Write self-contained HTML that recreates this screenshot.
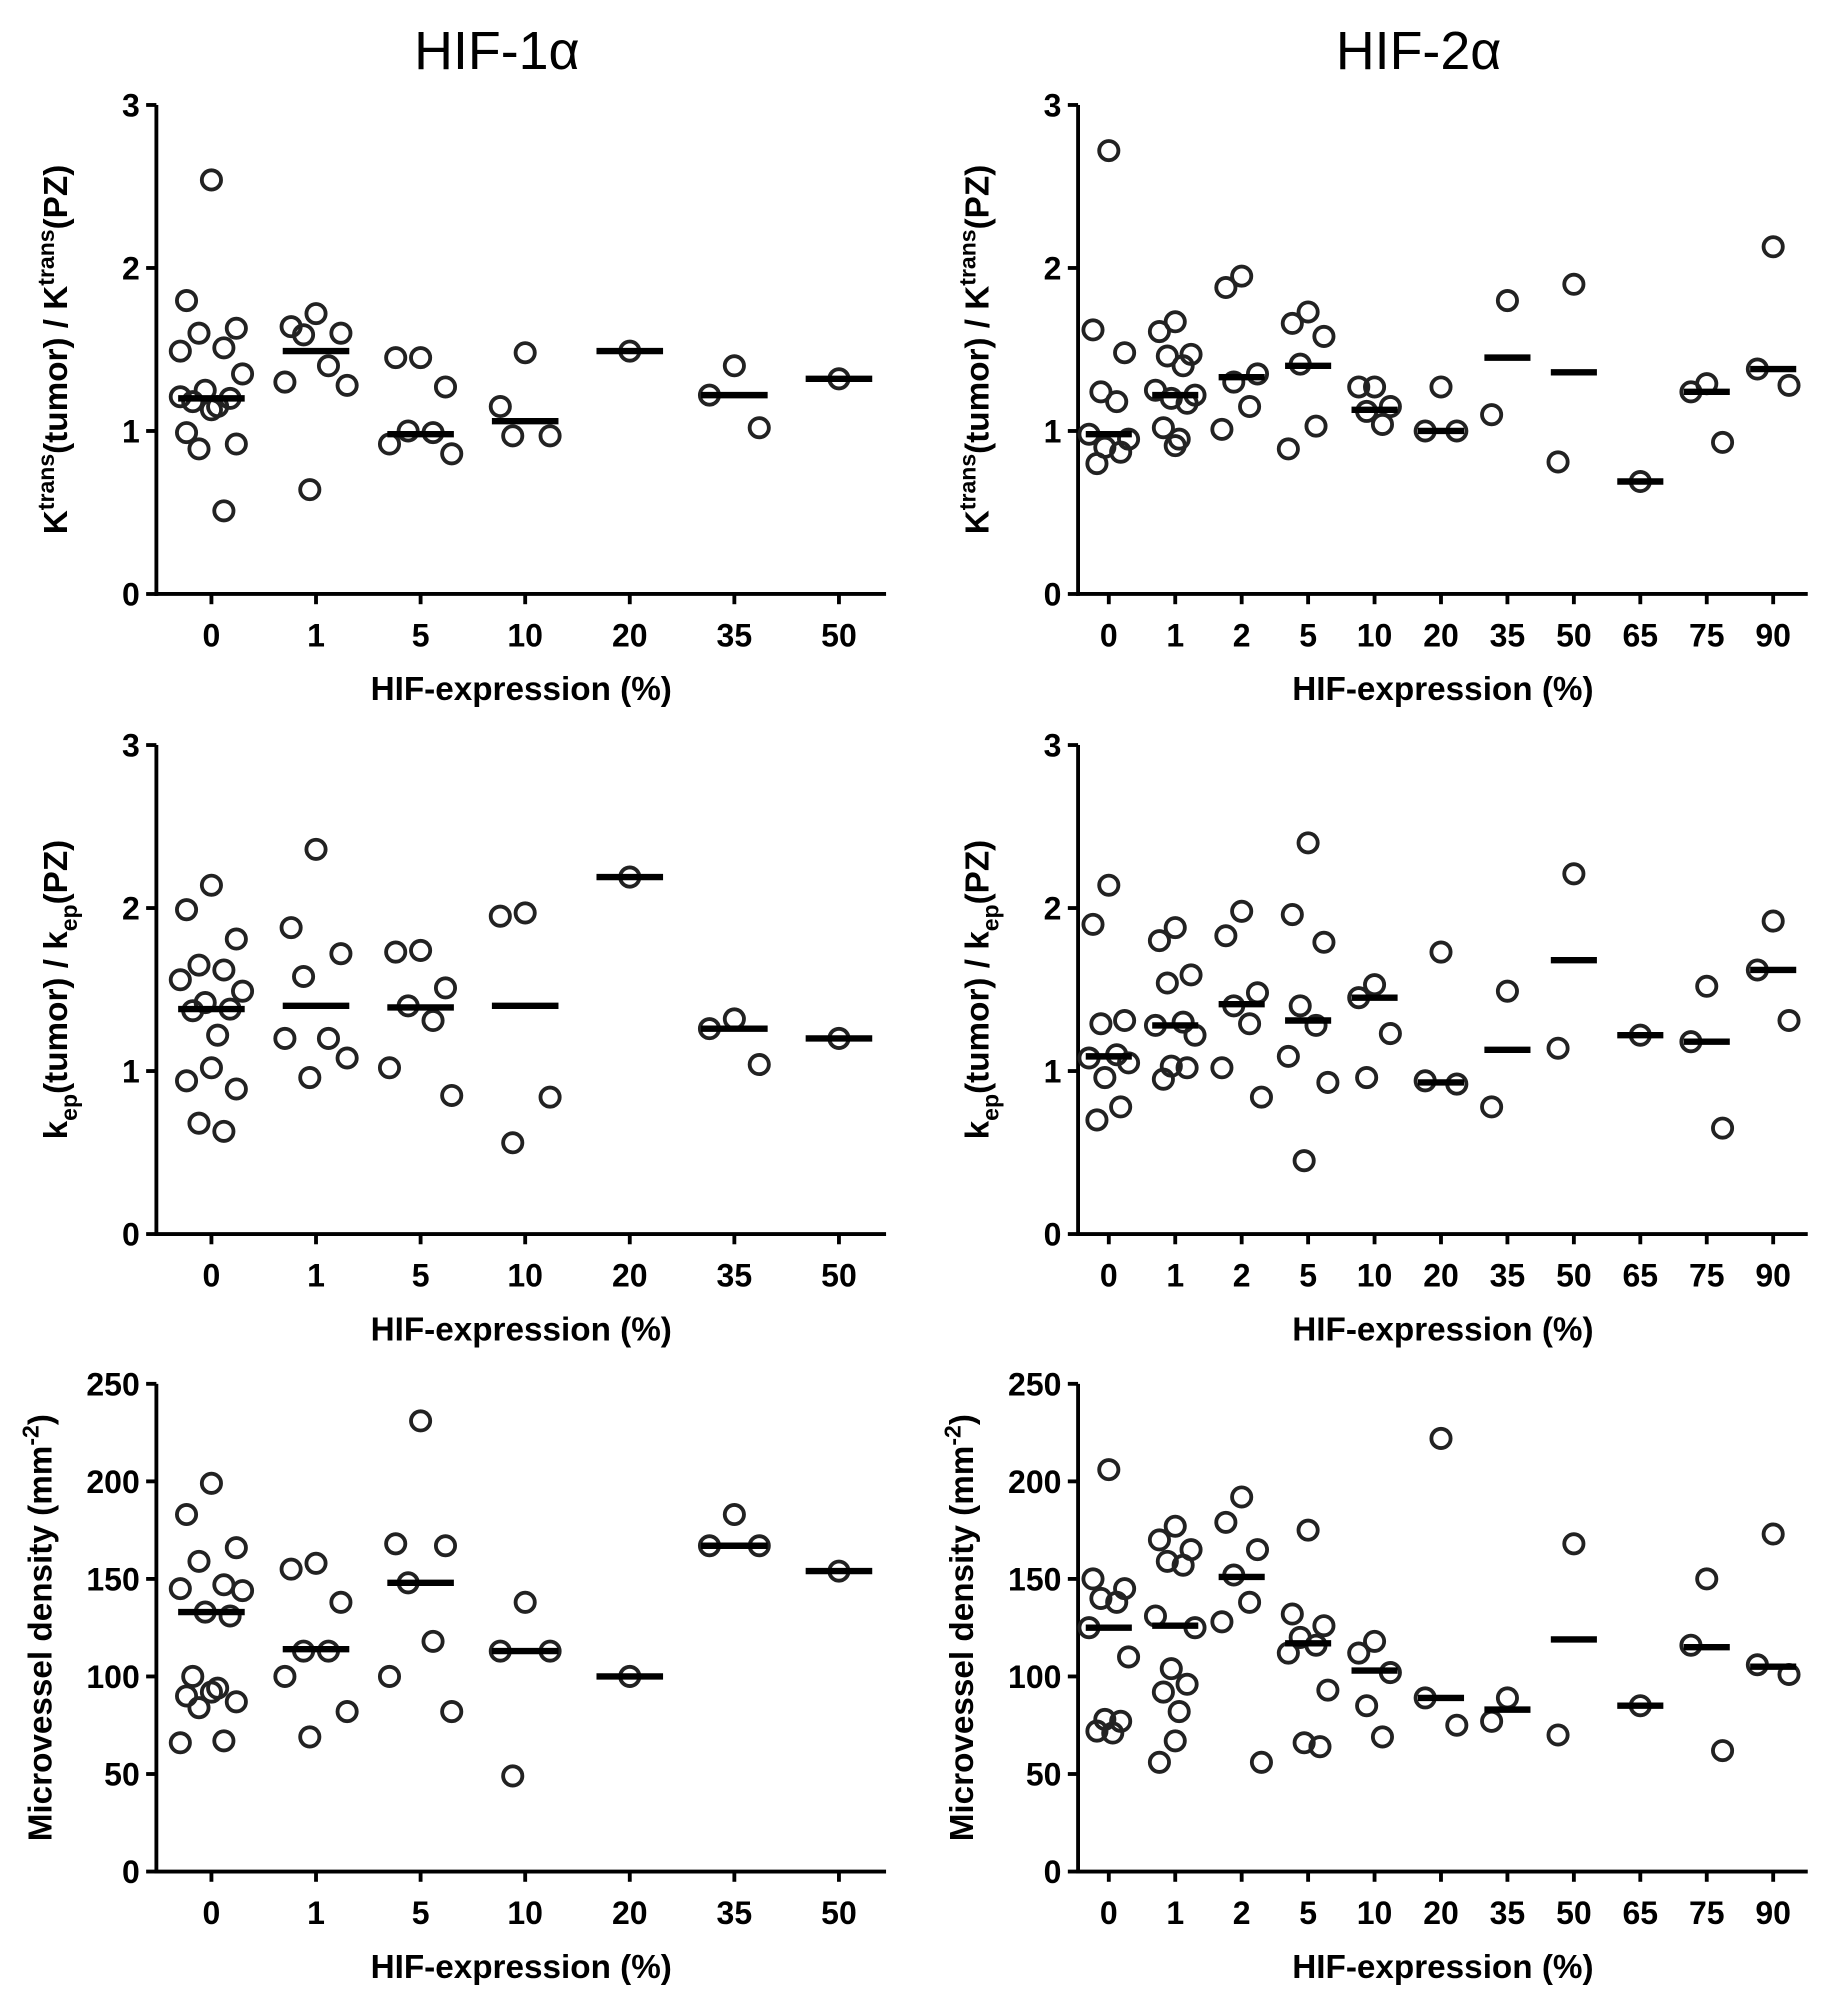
<!DOCTYPE html>
<html><head><meta charset="utf-8">
<style>
html,body{margin:0;padding:0;background:#fff;}
svg{display:block;font-family:"Liberation Sans",sans-serif;}
</style></head>
<body>
<svg id="fig" width="1831" height="1997" viewBox="0 0 1430 1560" xmlns="http://www.w3.org/2000/svg">
<text x="388" y="54" font-size="42" text-anchor="middle">HIF-1α</text>
<text x="1108" y="54" font-size="42" text-anchor="middle">HIF-2α</text>
</svg>
<script>
const cats1 = ["0","1","5","10","20","35","50"];
const cats2 = ["0","1","2","5","10","20","35","50","65","75","90"];
const ticksRatio = ["0","1","2","3"];
const ticksMvd = ["0","50","100","150","200","250"];

const ktrans1 = [[2.54,1.80,1.63,1.60,1.51,1.49,1.35,1.25,1.20,1.18,1.15,1.13,0.99,0.92,0.89,0.51,1.21],[1.72,1.64,1.60,1.59,1.40,1.30,1.28,0.64],[1.45,1.45,1.27,1.00,0.99,0.92,0.86],[1.48,1.15,0.97,0.97],[1.49],[1.40,1.22,1.02],[1.32]];
const ktrans1Med = [1.20,1.49,0.98,1.06,1.49,1.22,1.32];
const ktrans2 = [[2.72,1.62,1.48,1.24,1.18,0.98,0.95,0.90,0.87,0.80],[1.67,1.61,1.47,1.46,1.40,1.25,1.22,1.20,1.17,1.02,0.95,0.91],[1.95,1.88,1.35,1.30,1.15,1.01],[1.73,1.66,1.58,1.41,1.03,0.89],[1.27,1.27,1.15,1.12,1.04],[1.27,1.00,1.00],[1.80,1.10],[1.90,0.81],[0.69],[1.29,1.24,0.93],[2.13,1.38,1.28]];
const ktrans2Med = [0.98,1.22,1.33,1.40,1.13,1.00,1.45,1.36,0.69,1.24,1.38];
const kep1 = [[2.14,1.99,1.81,1.65,1.62,1.56,1.49,1.42,1.38,1.37,1.22,1.02,0.94,0.89,0.68,0.63],[2.36,1.88,1.72,1.58,1.20,1.20,1.08,0.96],[1.74,1.73,1.51,1.40,1.31,1.02,0.85],[1.97,1.95,0.84,0.56],[2.19],[1.32,1.26,1.04],[1.20]];
const kep1Med = [1.38,1.40,1.39,1.40,2.19,1.26,1.20];
const kep2 = [[2.14,1.90,1.31,1.29,1.10,1.08,1.05,0.96,0.78,0.70],[1.88,1.80,1.59,1.54,1.30,1.28,1.22,1.03,1.02,0.95],[1.98,1.83,1.48,1.40,1.29,1.02,0.84],[2.40,1.96,1.79,1.40,1.28,1.09,0.93,0.45],[1.53,1.45,1.23,0.96],[1.73,0.94,0.92],[1.49,0.78],[2.21,1.14],[1.22],[1.52,1.18,0.65],[1.92,1.62,1.31]];
const kep2Med = [1.09,1.28,1.41,1.31,1.45,0.93,1.13,1.68,1.22,1.18,1.62];
const mvd1 = [[199,183,166,159,147,145,144,133,131,100,94,92,90,87,84,67,66],[158,155,138,113,113,100,82,69],[231,168,167,148,118,100,82],[138,113,113,49],[100],[183,167,167],[154]];
const mvd1Med = [133,114,148,113,100,167,154];
const mvd2 = [[206,150,145,140,138,125,110,78,77,72,71],[177,170,165,159,157,131,125,104,96,92,82,67,56],[192,179,165,152,138,128,56],[175,132,126,120,116,112,93,66,64],[118,112,102,85,69],[222,89,75],[89,77],[168,70],[85],[150,116,62],[173,106,101]];
const mvd2Med = [125,126,151,117,103,89,83,119,85,115,105];

const NS="http://www.w3.org/2000/svg";
const svg=document.getElementById('fig');
function mk(tag,attrs,parent){const e=document.createElementNS(NS,tag);for(const k in attrs)e.setAttribute(k,attrs[k]);(parent||svg).appendChild(e);return e;}
const jit=[0,-0.28,0.28,-0.14,0.14,-0.35,0.35,-0.07,0.21,-0.21,0.07];

function panel(o){
  const g=mk('g',{});
  
  
  const yS=v=>o.y0-(v/o.ymax)*(o.y0-o.yTop);
  const xS=i=>o.xFirst+i*o.step;
  // axes
  const ya=mk('line',{x1:o.ax,y1:o.yTop,x2:o.ax,y2:o.y0+1.5,stroke:'#000','stroke-width':3},g);
  
  const xa=mk('line',{x1:o.ax-1.5,y1:o.y0,x2:o.xEnd,y2:o.y0,stroke:'#000','stroke-width':3},g);
  
  o.ticks.forEach(t=>{
    const y=yS(+t);
    mk('line',{x1:o.ax-8,y1:y,x2:o.ax,y2:y,stroke:'#000','stroke-width':3},g);
    const tx=mk('text',{x:o.ax-13,y:y+9,'font-size':25,'font-weight':'bold','text-anchor':'end'},g);
    tx.textContent=t;
    
  });
  o.cats.forEach((c,i)=>{
    const x=xS(i);
    mk('line',{x1:x,y1:o.y0,x2:x,y2:o.y0+8,stroke:'#000','stroke-width':3},g);
    const tx=mk('text',{x:x,y:o.y0+41,'font-size':25,'font-weight':'bold','text-anchor':'middle'},g);
    tx.textContent=c;
    
    o.vals[i].forEach((v,j)=>{
      const p=mk('circle',{cx:x+jit[j%jit.length]*o.step*0.85,cy:yS(v),r:7.5,fill:'none',stroke:'#222','stroke-width':3},g);
      
    });
    const my=yS(o.med[i]);
    const m=mk('line',{x1:x-o.mw,y1:my,x2:x+o.mw,y2:my,stroke:'#000','stroke-width':5},g);
    
  });
  const xt=mk('text',{x:(o.ax+o.xEnd)/2,y:o.y0+83,'font-size':26,'font-weight':'bold','text-anchor':'middle'},g);
  xt.textContent='HIF-expression (%)';
  
  const yt=mk('text',{x:0,y:0,'font-size':26,'font-weight':'bold','text-anchor':'middle',transform:`translate(${o.ytx},${(o.yTop+o.y0)/2}) rotate(-90)`},g);
  yt.innerHTML=o.ytitle;
  
}
const KT='K<tspan dy="-10" font-size="18">trans</tspan><tspan dy="10">(tumor) / K</tspan><tspan dy="-10" font-size="18">trans</tspan><tspan dy="10">(PZ)</tspan>';
const KE='k<tspan dy="8" font-size="18">ep</tspan><tspan dy="-8">(tumor) / k</tspan><tspan dy="8" font-size="18">ep</tspan><tspan dy="-8">(PZ)</tspan>';
const MV='Microvessel density (mm<tspan dy="-10" font-size="18">-2</tspan><tspan dy="10">)</tspan>';
const L={ax:122,xFirst:165,step:81.7,xEnd:692,mw:26};
const R={ax:842,xFirst:866,step:51.9,xEnd:1412,mw:18};
panel({...L,name:'panel-hif1a-ktrans',cats:cats1,vals:ktrans1,med:ktrans1Med,ticks:ticksRatio,ymax:3,yTop:82,y0:464,ytx:52,ytitle:KT});
panel({...R,name:'panel-hif2a-ktrans',cats:cats2,vals:ktrans2,med:ktrans2Med,ticks:ticksRatio,ymax:3,yTop:82,y0:464,ytx:772,ytitle:KT});
panel({...L,name:'panel-hif1a-kep',cats:cats1,vals:kep1,med:kep1Med,ticks:ticksRatio,ymax:3,yTop:582,y0:964,ytx:52,ytitle:KE});
panel({...R,name:'panel-hif2a-kep',cats:cats2,vals:kep2,med:kep2Med,ticks:ticksRatio,ymax:3,yTop:582,y0:964,ytx:772,ytitle:KE});
panel({...L,name:'panel-hif1a-mvd',cats:cats1,vals:mvd1,med:mvd1Med,ticks:ticksMvd,ymax:250,yTop:1081,y0:1462,ytx:40,ytitle:MV});
panel({...R,name:'panel-hif2a-mvd',cats:cats2,vals:mvd2,med:mvd2Med,ticks:ticksMvd,ymax:250,yTop:1081,y0:1462,ytx:760,ytitle:MV});
</script>
</body></html>
